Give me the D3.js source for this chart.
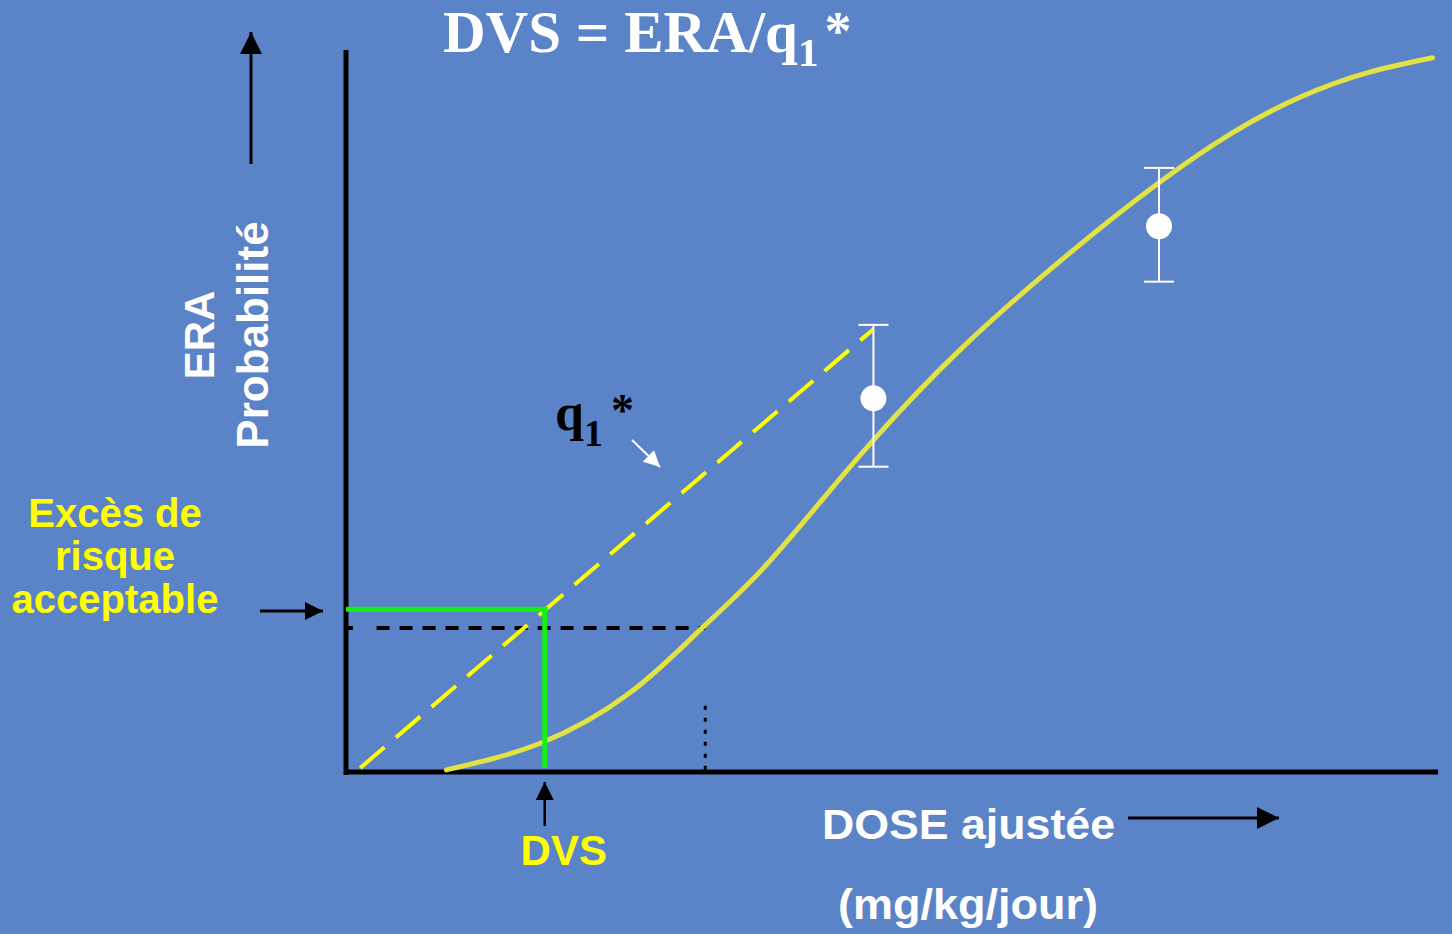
<!DOCTYPE html>
<html>
<head>
<meta charset="utf-8">
<script src="https://cdn.jsdelivr.net/npm/d3@7"></script>
<style>
  html, body { margin: 0; padding: 0; background: #5b83c8; }
  svg { display: block; }
  .sans { font-family: "Liberation Sans", Arial, sans-serif; font-weight: bold; }
  .serif { font-family: "Liberation Serif", "Times New Roman", serif; font-weight: bold; }
</style>
</head>
<body>
<svg id="chart" width="1452" height="934"></svg>
<script>
// Dose–response curve (arbitrary dose units, excess risk in %)
const curveDose = [9.2, 17.8, 26.0, 32.4, 37.9, 43.6, 48.3, 56.2, 66.3, 74.5, 81.2, 87.4, 93.5, 99.5];
const curveRisk = [0.3, 4.0, 11.0, 19.7, 27.8, 37.8, 46.1, 58.6, 72.1, 81.9, 88.8, 93.75, 97.1, 99.2];

// Observed points with their confidence intervals
const pointDose = [48.3, 74.45];
const pointRisk = [51.9, 75.8];
const pointLow  = [42.4, 68.1];
const pointHigh = [62.1, 83.9];

// Upper-bound slope line q1*
const q1Dose = [1.3, 48.3];
const q1Risk = [0.56, 61.5];

// Acceptable excess risk and the matching DVS dose
const acceptableRisk = 22.6;
const dvsDose = 18.2;

// Level read on the central curve
const curveLevelRisk = 20.0;
const curveLevelDoseStart = 2.8;
const curveLevelDose = 32.9;

const svg = d3.select("#chart");
const W = 1452, H = 934;

svg.append("rect").attr("width", W).attr("height", H).attr("fill", "#5b83c8");

const x = d3.scaleLinear().domain([0, 100]).range([346, 1438]);
const y = d3.scaleLinear().domain([0, 100]).range([772, 52]);

// arrow heads
const defs = svg.append("defs");
function marker(id, color, w, h) {
  defs.append("marker")
    .attr("id", id)
    .attr("viewBox", "0 0 10 10")
    .attr("refX", 10).attr("refY", 5)
    .attr("markerUnits", "userSpaceOnUse")
    .attr("markerWidth", w).attr("markerHeight", h)
    .attr("orient", "auto")
    .append("path").attr("d", "M0,0 L10,5 L0,10 Z").attr("fill", color);
}
marker("arrBlack", "#000", 24, 22);
marker("arrBlackSmall", "#000", 18, 18);
marker("arrWhite", "#fff", 18, 16);

// Axes
svg.append("line")
  .attr("x1", x(0)).attr("x2", x(0))
  .attr("y1", y(100) - 2).attr("y2", y(0) + 3)
  .attr("stroke", "#000").attr("stroke-width", 5);
svg.append("line")
  .attr("x1", x(0) - 2).attr("x2", x(100))
  .attr("y1", y(0)).attr("y2", y(0))
  .attr("stroke", "#000").attr("stroke-width", 5);

// Dotted level line on the curve
svg.append("line")
  .attr("x1", x(0)).attr("x2", x(0) + 7)
  .attr("y1", y(curveLevelRisk)).attr("y2", y(curveLevelRisk))
  .attr("stroke", "#000").attr("stroke-width", 4);
svg.append("line")
  .attr("x1", x(curveLevelDoseStart)).attr("x2", x(curveLevelDose))
  .attr("y1", y(curveLevelRisk)).attr("y2", y(curveLevelRisk))
  .attr("stroke", "#000").attr("stroke-width", 4)
  .attr("stroke-dasharray", "13 10");
svg.append("line")
  .attr("x1", x(curveLevelDose)).attr("x2", x(curveLevelDose))
  .attr("y1", y(9.2)).attr("y2", y(0))
  .attr("stroke", "#000").attr("stroke-width", 3)
  .attr("stroke-dasharray", "4 8");

// Central dose–response curve
const curvePts = curveDose.map((d, i) => [d, curveRisk[i]]);
const line = d3.line().x(d => x(d[0])).y(d => y(d[1])).curve(d3.curveNatural);
svg.append("path")
  .datum(curvePts)
  .attr("d", line)
  .attr("fill", "none")
  .attr("stroke", "#e2e244")
  .attr("stroke-width", 5)
  .attr("stroke-linecap", "round");

// q1* slope line
svg.append("line")
  .attr("x1", x(q1Dose[0])).attr("y1", y(q1Risk[0]))
  .attr("x2", x(q1Dose[1])).attr("y2", y(q1Risk[1]))
  .attr("stroke", "#ffff00").attr("stroke-width", 4)
  .attr("stroke-dasharray", "32 15");

// Acceptable risk / DVS construction lines
svg.append("line")
  .attr("x1", x(0)).attr("x2", x(dvsDose) + 3)
  .attr("y1", y(acceptableRisk)).attr("y2", y(acceptableRisk))
  .attr("stroke", "#14f014").attr("stroke-width", 5);
svg.append("line")
  .attr("x1", x(dvsDose)).attr("x2", x(dvsDose))
  .attr("y1", y(acceptableRisk)).attr("y2", y(0) - 4)
  .attr("stroke", "#14f014").attr("stroke-width", 5);

// Observed points with error bars
const pts = pointDose.map((d, i) => ({ d, r: pointRisk[i], lo: pointLow[i], hi: pointHigh[i] }));
const g = svg.append("g").selectAll("g").data(pts).join("g");
g.append("line")
  .attr("x1", p => x(p.d)).attr("x2", p => x(p.d))
  .attr("y1", p => y(p.lo)).attr("y2", p => y(p.hi))
  .attr("stroke", "#fff").attr("stroke-width", 2);
g.append("line")
  .attr("x1", p => x(p.d) - 15).attr("x2", p => x(p.d) + 15)
  .attr("y1", p => y(p.lo)).attr("y2", p => y(p.lo))
  .attr("stroke", "#fff").attr("stroke-width", 2);
g.append("line")
  .attr("x1", p => x(p.d) - 15).attr("x2", p => x(p.d) + 15)
  .attr("y1", p => y(p.hi)).attr("y2", p => y(p.hi))
  .attr("stroke", "#fff").attr("stroke-width", 2);
g.append("circle")
  .attr("cx", p => x(p.d)).attr("cy", p => y(p.r))
  .attr("r", 13).attr("fill", "#fff");

// Title
const title = svg.append("text").attr("class", "serif")
  .attr("x", 443).attr("y", 52)
  .attr("font-size", 59).attr("fill", "#fff");
title.append("tspan").text("DVS = ERA/q");
title.append("tspan").attr("font-size", 41).attr("dy", 14).text("1");
title.append("tspan").attr("font-size", 54).attr("dy", -17).attr("dx", 6).text("*");

// q1* label
const q1 = svg.append("text").attr("class", "serif")
  .attr("x", 555).attr("y", 430)
  .attr("font-size", 52).attr("fill", "#000");
q1.append("tspan").text("q");
q1.append("tspan").attr("font-size", 38).attr("dy", 16).text("1");
q1.append("tspan").attr("font-size", 46).attr("dy", -20).attr("dx", 8).text("*");
svg.append("line")
  .attr("x1", 632).attr("y1", 440).attr("x2", 660).attr("y2", 467)
  .attr("stroke", "#fff").attr("stroke-width", 2)
  .attr("marker-end", "url(#arrWhite)");

// Y axis title with arrow
svg.append("text").attr("class", "sans")
  .attr("transform", "translate(214,335) rotate(-90)")
  .attr("text-anchor", "middle")
  .attr("font-size", 42).attr("fill", "#fff").text("ERA");
svg.append("text").attr("class", "sans")
  .attr("transform", "translate(268,335) rotate(-90)")
  .attr("text-anchor", "middle")
  .attr("font-size", 44).attr("fill", "#fff").text("Probabilité");
svg.append("line")
  .attr("x1", 251).attr("y1", 164).attr("x2", 251).attr("y2", 32)
  .attr("stroke", "#000").attr("stroke-width", 3)
  .attr("marker-end", "url(#arrBlack)");

// Acceptable risk label and arrow
const exc = svg.append("text").attr("class", "sans")
  .attr("text-anchor", "middle")
  .attr("font-size", 40).attr("fill", "#ffff00");
["Excès de", "risque", "acceptable"].forEach((t, i) => {
  exc.append("tspan").attr("x", 115).attr("y", 527 + i * 43).text(t);
});
svg.append("line")
  .attr("x1", 260).attr("y1", 611).attr("x2", 323).attr("y2", 611)
  .attr("stroke", "#000").attr("stroke-width", 3)
  .attr("marker-end", "url(#arrBlackSmall)");

// DVS label and arrow
svg.append("text").attr("class", "sans")
  .attr("x", x(dvsDose) + 19).attr("y", 865)
  .attr("text-anchor", "middle")
  .attr("font-size", 42).attr("fill", "#ffff00").text("DVS");
svg.append("line")
  .attr("x1", x(dvsDose)).attr("y1", 826).attr("x2", x(dvsDose)).attr("y2", 782)
  .attr("stroke", "#000").attr("stroke-width", 2.5)
  .attr("marker-end", "url(#arrBlackSmall)");

// X axis title with arrow
svg.append("text").attr("class", "sans")
  .attr("x", 822).attr("y", 839)
  .attr("font-size", 42).attr("fill", "#fff")
  .attr("textLength", 293).attr("lengthAdjust", "spacingAndGlyphs")
  .text("DOSE ajustée");
svg.append("text").attr("class", "sans")
  .attr("x", 838).attr("y", 919)
  .attr("font-size", 43).attr("fill", "#fff")
  .attr("textLength", 260).attr("lengthAdjust", "spacingAndGlyphs")
  .text("(mg/kg/jour)");
svg.append("line")
  .attr("x1", 1128).attr("y1", 818).attr("x2", 1279).attr("y2", 818)
  .attr("stroke", "#000").attr("stroke-width", 3)
  .attr("marker-end", "url(#arrBlack)");
</script>
</body>
</html>
